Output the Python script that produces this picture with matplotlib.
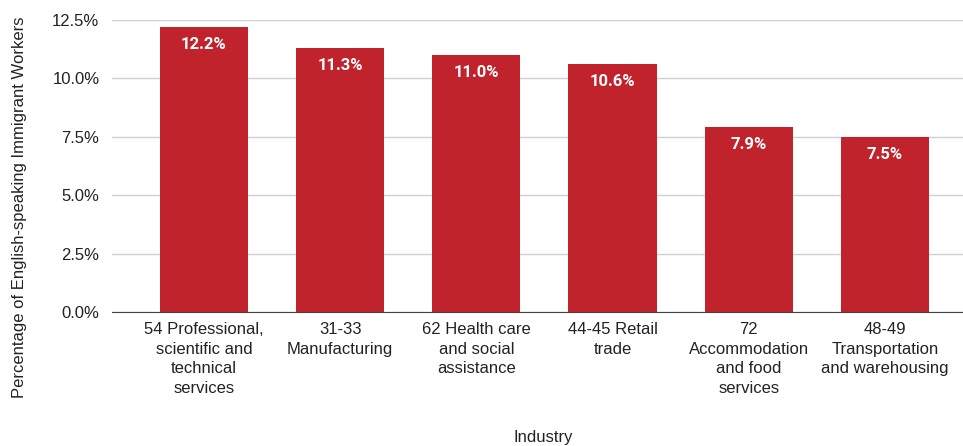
import numpy as np
import matplotlib.pyplot as plt

plt.rcParams['font.family'] = ['Liberation Sans', 'DejaVu Sans']

industries = ["54 Professional,\nscientific and\ntechnical\nservices",
              "31-33\nManufacturing",
              "62 Health care\nand social\nassistance",
              "44-45 Retail\ntrade",
              "72\nAccommodation\nand food\nservices",
              "48-49\nTransportation\nand warehousing"]
shares = [12.2, 11.3, 11.0, 10.6, 7.9, 7.5]
yticks = [0, 2.5, 5.0, 7.5, 10.0, 12.5]

bar_color = "#c0232b"
text_color = "#222222"

fig = plt.figure(figsize=(9.63, 4.46), dpi=100)
ax = fig.add_axes([0.1163, 0.3004, 0.8837, 0.6547])

x = np.arange(len(shares))
bars = ax.bar(x, shares, width=0.647, color=bar_color, zorder=3)

# value labels sit just inside the top of each bar
for b, v in zip(bars, shares):
    ax.annotate(f"{v:.1f}%", (b.get_x() + b.get_width() / 2, v),
                xytext=(0, -7), textcoords="offset points",
                ha="center", va="top", color="white", family="Roboto",
                fontsize=12, fontweight="bold", zorder=4)

ax.set_ylim(0, 12.5)
ax.set_xlim(-0.676, 5.574)
ax.set_yticks(yticks)
ax.set_yticklabels([f"{t:.1f}%" for t in yticks], fontsize=12, color=text_color)
ax.set_xticks(x)
ax.set_xticklabels(industries, fontsize=12, color=text_color, linespacing=1.4)
ax.tick_params(axis="both", length=0)
ax.tick_params(axis="x", pad=7)
ax.tick_params(axis="y", pad=9)

ax.grid(axis="y", color="#d0d0d0", linewidth=1, zorder=0)
for s in ["top", "right", "left"]:
    ax.spines[s].set_visible(False)
ax.spines["bottom"].set_color("#444444")
ax.spines["bottom"].set_zorder(5)

ax.set_ylabel("Percentage of English-speaking Immigrant Workers",
              fontsize=12, color=text_color)
ax.yaxis.set_label_coords(-0.1, 0.36)
fig.text(0.5637, 0.003, "Industry", ha="center", va="bottom",
         fontsize=12, color=text_color)

fig.savefig("out.png", dpi=100)
